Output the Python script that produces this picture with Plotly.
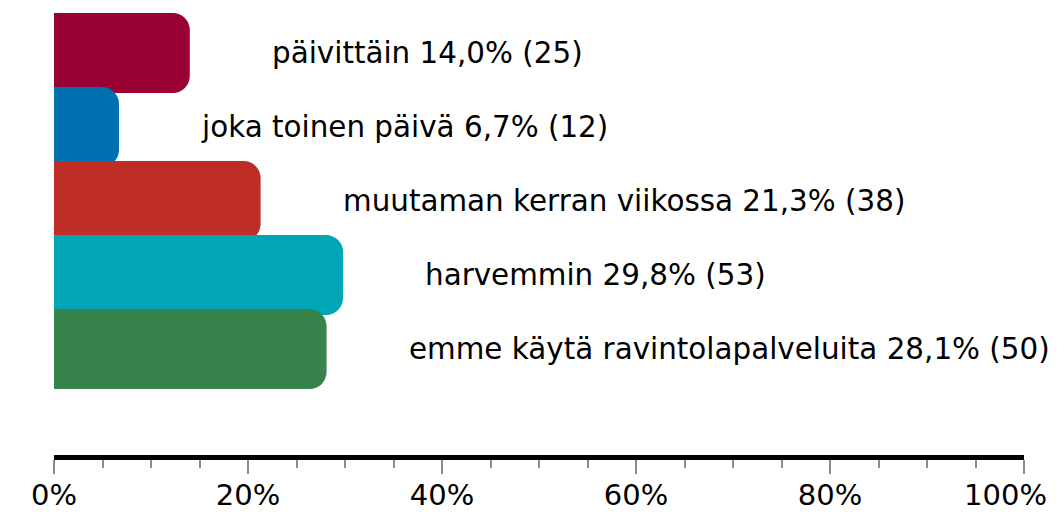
import plotly.graph_objects as go

categories = ["päivittäin", "joka toinen päivä", "muutaman kerran viikossa", "harvemmin",
              "emme käytä ravintolapalveluita"]
percents = [14.0, 6.7, 21.3, 29.8, 28.1]
counts = [25, 12, 38, 53, 50]
colors = ["#990033", "#0071B0", "#BE2D26", "#00A6B6", "#36834B"]
tick_vals = [0, 20, 40, 60, 80, 100]
tick_text = ["0%", "20%", "40%", "60%", "80%", "100%\u00a0\u00a0\u00a0\u00a0"]

FONT = "DejaVu Sans, Verdana, sans-serif"

fig = go.Figure()
fig.add_trace(go.Bar(
    x=percents, y=categories, orientation="h",
    marker=dict(color=colors, line=dict(width=0), cornerradius=17),
    width=1.08, hoverinfo="skip",
))

for c, p, n in zip(categories, percents, counts):
    label = f"{c} {p:.1f}".replace(".", ",") + f"% ({n})"
    fig.add_annotation(x=p, y=c, text=label, showarrow=False, xanchor="left",
                       yanchor="middle", xshift=80,
                       font=dict(family=FONT, size=29.4, color="#000000"))

fig.update_layout(
    width=1057, height=513,
    margin=dict(l=54, r=33, t=13, b=58, autoexpand=False),
    paper_bgcolor="white", plot_bgcolor="white",
    showlegend=False,
    font=dict(family=FONT, size=29, color="#000000"),
)
fig.update_xaxes(
    range=[0, 100], tickvals=tick_vals, ticktext=tick_text,
    showgrid=False, zeroline=False, automargin=False,
    showline=True, linewidth=5, linecolor="#000000",
    ticks="outside", ticklen=14, tickwidth=2, tickcolor="#8c8c8c",
    minor=dict(dtick=5, ticks="outside", ticklen=8, tickwidth=2, tickcolor="#8c8c8c", showgrid=False),
    tickfont=dict(family=FONT, size=29, color="#000000"),
    ticklabeloverflow="allow", ticklabelstandoff=-4,
    fixedrange=True,
)
fig.update_yaxes(
    categoryorder="array", categoryarray=categories, automargin=False,
    range=[5.43, -0.54], showticklabels=False, showgrid=False,
    zeroline=False, showline=False, ticks="", fixedrange=True,
)

# remove the default 8px page margin so the 1057x513 figure fills the window exactly
fig.write_html(
    "out.html",
    config={"displayModeBar": False, "staticPlot": True},
    post_script="document.body.style.margin='0';document.body.style.overflow='hidden';",
)
